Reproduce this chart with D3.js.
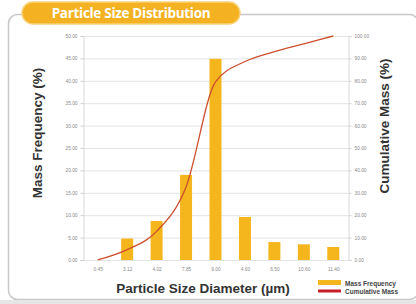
<!DOCTYPE html>
<html>
<head>
<meta charset="utf-8">
<script src="https://cdn.jsdelivr.net/npm/d3@7"></script>
<style>
  body { margin: 0; background: #fff; }
  svg { display: block; font-family: "Liberation Sans", Arial, sans-serif; }
</style>
</head>
<body>
<div id="chart"></div>
<script>
// sizes (x labels), bar values and cumulative curve
const sizes = ["0.45", "3.12", "4.02", "7.85", "9.00", "4.60", "6.50", "10.60", "11.40"];
const massFrequency = [null, 4.8, 8.7, 19.0, 44.9, 9.6, 4.0, 3.5, 2.9];
const cumulativeMass = [0, 4.6, 12.8, 32.6, 79.5, 88.6, 93.0, 96.5, 100];
const leftTicks = [0, 5, 10, 15, 20, 25, 30, 35, 40, 45, 50];
const rightTicks = [0, 10, 20, 30, 40, 50, 60, 70, 80, 90, 100];

const width = 416;
const height = 304;
const plot = { left: 83, right: 348, top: 36, bottom: 260 };

const svg = d3.select("#chart")
    .append("svg")
    .attr("width", width)
    .attr("height", height);

// Panel frame
svg.append("rect")
    .attr("x", 8.5).attr("y", 14.5)
    .attr("width", 410).attr("height", 285)
    .attr("rx", 9)
    .attr("fill", "#fff")
    .attr("stroke", "#c8c8c8")
    .attr("stroke-width", 1.5);

svg.append("rect")
    .attr("x", 0).attr("y", 300)
    .attr("width", width).attr("height", 4)
    .attr("fill", "#e6e6e6");

// Title pill
svg.append("rect")
    .attr("x", 22).attr("y", 2)
    .attr("width", 218).attr("height", 22)
    .attr("rx", 11)
    .attr("fill", "#f4b223")
    .attr("stroke", "#f8d27a")
    .attr("stroke-width", 1.5);

svg.append("text")
    .attr("x", 131).attr("y", 18)
    .attr("text-anchor", "middle")
    .attr("fill", "#fff")
    .style("font-family", "'Open Sans', sans-serif")
    .style("font-weight", "bold")
    .style("font-size", "13.5px")
    .style("letter-spacing", "-0.3px")
    .text("Particle Size Distribution");

// Scales
const xScale = d3.scalePoint().domain(d3.range(sizes.length)).range([plot.left, plot.right]).padding(0.5);
const yLeft = d3.scaleLinear().domain([0, 50]).range([plot.bottom, plot.top]);
const yRight = d3.scaleLinear().domain([0, 100]).range([plot.bottom, plot.top]);

// Grid lines
svg.append("g")
    .selectAll("line")
    .data(leftTicks)
    .enter()
    .append("line")
    .attr("x1", plot.left).attr("x2", plot.right)
    .attr("y1", d => yLeft(d) + 0.5).attr("y2", d => yLeft(d) + 0.5)
    .attr("stroke", "#e4e4e4")
    .attr("stroke-width", 1);

// Axes
const leftAxis = d3.axisLeft(yLeft).tickValues(leftTicks).tickSize(3).tickFormat(d => d.toFixed(2));
const rightAxis = d3.axisRight(yRight).tickValues(rightTicks).tickSize(3).tickFormat(d => d.toFixed(2));
const bottomAxis = d3.axisBottom(xScale).tickSize(0).tickFormat(i => sizes[i]);

function styleAxis(g) {
    g.select(".domain").attr("stroke", "#d8d8d8");
    g.selectAll(".tick line").attr("stroke", "#d0d0d0");
    g.selectAll(".tick text").attr("fill", "#8a8a8a").style("font-size", "4.8px");
}

svg.append("g")
    .attr("transform", `translate(${plot.left + 0.5}, 0)`)
    .call(leftAxis)
    .call(styleAxis);

svg.append("g")
    .attr("transform", `translate(${plot.right + 0.5}, 0)`)
    .call(rightAxis)
    .call(styleAxis)
    .call(g => g.selectAll(".tick text").attr("x", 6));

svg.append("g")
    .attr("transform", `translate(0, ${plot.bottom + 0.5})`)
    .call(bottomAxis)
    .call(styleAxis)
    .call(g => g.select(".domain").remove())
    .call(g => g.selectAll(".tick text").attr("y", 7));

// Bars
const barWidth = 12;
svg.append("g")
    .selectAll("rect")
    .data(massFrequency.map((v, i) => ({ v, i })).filter(d => d.v !== null))
    .enter()
    .append("rect")
    .attr("x", d => xScale(d.i) - barWidth / 2)
    .attr("y", d => yLeft(d.v))
    .attr("width", barWidth)
    .attr("height", d => plot.bottom - yLeft(d.v))
    .attr("fill", "#f5b51c");

// Cumulative line
const line = d3.line()
    .x((d, i) => xScale(i))
    .y(d => yRight(d))
    .curve(d3.curveMonotoneX);

svg.append("path")
    .datum(cumulativeMass)
    .attr("d", line)
    .attr("fill", "none")
    .attr("stroke", "#cc4f2e")
    .attr("stroke-width", 1.3);

// Axis titles
const titleStyle = t => t
    .attr("fill", "#333")
    .style("font-weight", "bold")
    .style("font-size", "13.5px");

svg.append("text")
    .attr("transform", "translate(42, 133) rotate(-90)")
    .attr("text-anchor", "middle")
    .call(titleStyle)
    .text("Mass Frequency (%)");

svg.append("text")
    .attr("transform", "translate(389, 126) rotate(-90)")
    .attr("text-anchor", "middle")
    .call(titleStyle)
    .text("Cumulative Mass (%)");

svg.append("text")
    .attr("x", 203).attr("y", 293)
    .attr("text-anchor", "middle")
    .call(titleStyle)
    .text("Particle Size Diameter (µm)");

// Legend
const legend = svg.append("g").attr("transform", "translate(318, 280)");
legend.append("rect")
    .attr("x", 0).attr("y", 0)
    .attr("width", 23).attr("height", 5)
    .attr("fill", "#f5b51c");
legend.append("rect")
    .attr("x", 0).attr("y", 9.5)
    .attr("width", 23).attr("height", 3)
    .attr("fill", "#c8202a");
legend.append("text")
    .attr("x", 27).attr("y", 5.5)
    .attr("fill", "#444")
    .style("font-weight", "bold")
    .style("font-size", "6.5px")
    .text("Mass Frequency");
legend.append("text")
    .attr("x", 27).attr("y", 13.5)
    .attr("fill", "#444")
    .style("font-weight", "bold")
    .style("font-size", "6.5px")
    .text("Cumulative Mass");
</script>
</body>
</html>
